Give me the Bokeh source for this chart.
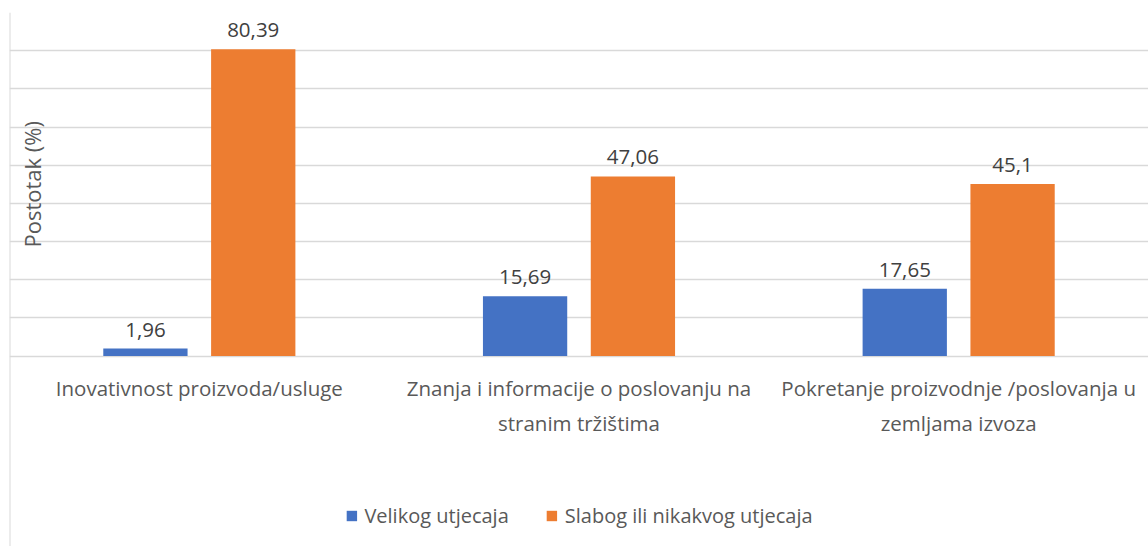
from math import pi
from bokeh.plotting import figure
from bokeh.models import (ColumnDataSource, FactorRange, Range1d, FixedTicker, Span,
                          Label, Legend, LegendItem)
from bokeh.transform import dodge
from bokeh.core.properties import value
from bokeh.embed import file_html
from bokeh.resources import INLINE

categories = [
    "Inovativnost proizvoda/usluge",
    "Znanja i informacije o poslovanju na\nstranim tržištima",
    "Pokretanje proizvodnje /poslovanja u\nzemljama izvoza",
]
series_names = ["Velikog utjecaja", "Slabog ili nikakvog utjecaja"]
velikog = [1.96, 15.69, 17.65]
slabog = [80.39, 47.06, 45.1]
velikog_labels = ["1,96", "15,69", "17,65"]
slabog_labels = ["80,39", "47,06", "45,1"]
y_ticks = [0, 10, 20, 30, 40, 50, 60, 70, 80, 90]

FONT = "Open Sans"
TXT = "#595959"
BLUE = "#4472C4"
ORANGE = "#ED7D31"
GRID = "#D9D9D9"

src = ColumnDataSource(dict(cat=categories, zero=[0, 0, 0], v=velikog, s=slabog,
                            vl=velikog_labels, sl=slabog_labels))

p = figure(width=1148, height=546, output_backend="svg", toolbar_location=None,
           x_range=FactorRange(*categories), y_range=Range1d(-49.9, 90),
           min_border_left=9, min_border_right=0, min_border_top=12, min_border_bottom=0)
p.outline_line_color = None
p.background_fill_color = "white"
p.border_fill_color = "white"

w = 0.222
r1 = p.vbar(x=dodge("cat", -0.142, range=p.x_range), top="v", width=w, source=src,
            fill_color=BLUE, line_color=None)
r2 = p.vbar(x=dodge("cat", 0.142, range=p.x_range), top="s", width=w, source=src,
            fill_color=ORANGE, line_color=None)

for col, lab, off in (("v", "vl", -0.142), ("s", "sl", 0.142)):
    p.text(x=dodge("cat", off, range=p.x_range), y=col, text=lab, source=src,
           text_align="center", text_baseline="alphabetic", y_offset=-19,
           text_font=value(FONT), text_font_size="20.5px", text_color="#404040")

# category labels under the baseline
p.text(x="cat", y="zero", text="cat", source=src, text_align="center",
       text_baseline="top", y_offset=18, text_line_height=1.25,
       text_font=value(FONT), text_font_size="20.5px", text_color=TXT)

# grid
p.xgrid.visible = False
p.ygrid.ticker = FixedTicker(ticks=y_ticks)
p.ygrid.grid_line_color = GRID
p.ygrid.grid_line_width = 1.3
p.yaxis.visible = False
p.xaxis.visible = False

# left chart border
p.add_layout(Span(location=0, dimension="height", line_color=GRID, line_width=2))

# y axis title
p.add_layout(Label(x=22, x_units="screen", y=45, text="Postotak (%)", angle=pi / 2,
                   text_align="center", text_baseline="middle",
                   text_font=FONT, text_font_size="22px", text_color=TXT))

legend = Legend(items=[LegendItem(label=series_names[0], renderers=[r1]),
                       LegendItem(label=series_names[1], renderers=[r2])],
                location="bottom_center", orientation="horizontal",
                border_line_color=None, background_fill_alpha=0,
                label_text_font=FONT, label_text_font_size="20px", label_text_color=TXT,
                glyph_width=13, glyph_height=13, spacing=36, label_standoff=7,
                margin=17, padding=4)
p.add_layout(legend)

open("out.html", "w").write(file_html(p, INLINE))
